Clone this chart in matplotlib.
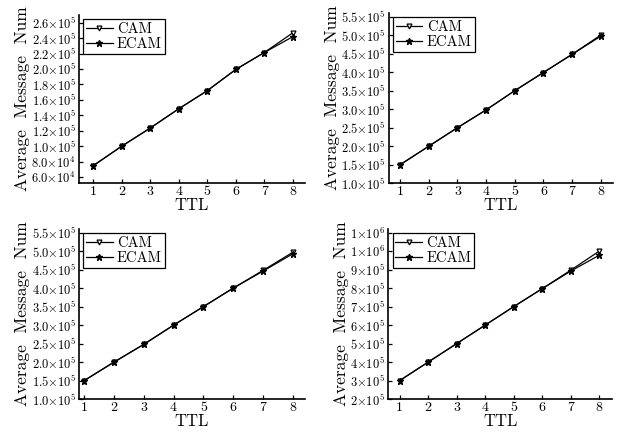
import numpy as np
import matplotlib
matplotlib.use("Agg")
import matplotlib.pyplot as plt

plt.rcParams['font.family'] = ['cmr10', 'DejaVu Serif']
plt.rcParams['mathtext.fontset'] = 'cm'
plt.rcParams['axes.formatter.use_mathtext'] = True

ttl = [1, 2, 3, 4, 5, 6, 7, 8]

# panel data
cam_a = [74700, 100000, 123500, 148500, 172000, 199500, 221500, 247000]
ecam_a = [74700, 100000, 123500, 148500, 172000, 199500, 221500, 242000]

cam_b = [150000, 200000, 250000, 298000, 350000, 399000, 448000, 500000]
ecam_b = [150000, 200000, 250000, 298000, 350000, 399000, 448000, 497000]

cam_c = [150000, 200000, 248000, 300000, 350000, 400000, 448000, 497000]
ecam_c = [150000, 200000, 248000, 300000, 350000, 400000, 446000, 493000]

cam_d = [300000, 400000, 500000, 600000, 700000, 797000, 897000, 1000000]
ecam_d = [300000, 400000, 500000, 600000, 700000, 797000, 892000, 978000]

ticks_a = [6e4, 8e4, 1.0e5, 1.2e5, 1.4e5, 1.6e5, 1.8e5, 2.0e5, 2.2e5, 2.4e5, 2.6e5]
labels_a = [r'$6.0{\times}10^4$', r'$8.0{\times}10^4$'] + \
    [r'$%.1f{\times}10^5$' % (t / 1e5) for t in ticks_a[2:]]

ticks_b = [1.0e5, 1.5e5, 2.0e5, 2.5e5, 3.0e5, 3.5e5, 4.0e5, 4.5e5, 5.0e5, 5.5e5]
labels_b = [r'$%.1f{\times}10^5$' % (t / 1e5) for t in ticks_b]

ticks_d = [2e5, 3e5, 4e5, 5e5, 6e5, 7e5, 8e5, 9e5, 1.0e6, 1.1e6]
labels_d = [r'$%d{\times}10^5$' % (t / 1e5) for t in ticks_d[:-2]] + \
    [r'$1{\times}10^6$', r'$1{\times}10^6$']

panels = [
    # rect, cam, ecam, ticks, labels, ylim, xlim
    ([0.127, 0.576, 0.363, 0.389], cam_a, ecam_a, ticks_a, labels_a, (52000, 270000), (0.5, 8.42)),
    ([0.625, 0.576, 0.36, 0.394], cam_b, ecam_b, ticks_b, labels_b, (100000, 560000), (0.6, 8.42)),
    ([0.127, 0.076, 0.363, 0.394], cam_c, ecam_c, ticks_b, labels_b, (100000, 560000), (0.83, 8.4)),
    ([0.624, 0.076, 0.36, 0.394], cam_d, ecam_d, ticks_d, labels_d, (200000, 1120000), (0.6, 8.45)),
]

fig = plt.figure(figsize=(6.22, 4.32), dpi=100)

for rect, cam, ecam, ticks, labels, ylim, xlim in panels:
    ax = fig.add_axes(rect)
    ax.plot(ttl, cam, color='black', lw=0.9, marker='v', ms=3.5,
            mfc='white', mec='black', mew=0.9, label='CAM')
    ax.plot(ttl, ecam, color='black', lw=0.9, marker='*', ms=4.5,
            mfc='black', mec='black', label='ECAM')
    ax.set_xlim(*xlim)
    ax.set_ylim(*ylim)
    ax.set_xticks(ttl)
    ax.set_xticklabels([str(t) for t in ttl], fontsize=10)
    ax.set_yticks(ticks)
    ax.set_yticklabels(labels, fontsize=9)
    ax.tick_params(direction='in', length=3, width=0.9, pad=2)
    ax.spines['top'].set_visible(False)
    ax.spines['right'].set_visible(False)
    for s in ('left', 'bottom'):
        ax.spines[s].set_linewidth(1.2)
    ax.set_xlabel('TTL', fontsize=12, labelpad=0)
    ax.set_ylabel('Average  Message  Num', fontsize=12.5, labelpad=1)
    leg = ax.legend(loc='upper left', fontsize=10.5, handlelength=1.8,
                    borderpad=0.2, labelspacing=0.1, handletextpad=0.3,
                    borderaxespad=0.3, fancybox=False, framealpha=1)
    leg.get_frame().set_edgecolor('black')
    leg.get_frame().set_linewidth(0.9)

fig.savefig('out.png', dpi=100)
